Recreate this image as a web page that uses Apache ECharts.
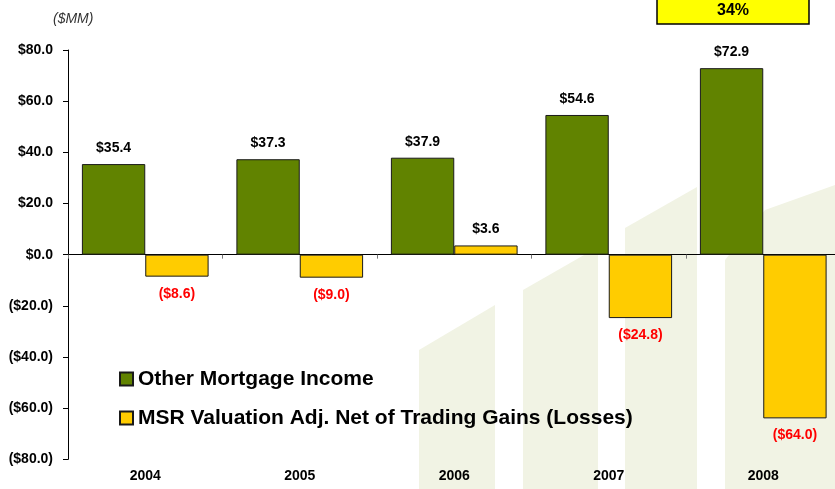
<!DOCTYPE html>
<html>
<head>
<meta charset="utf-8">
<script src="https://cdn.jsdelivr.net/npm/echarts@6/dist/echarts.min.js"></script>
<style>
  html, body { margin: 0; padding: 0; background: #fff; }
  #chart { width: 835px; height: 489px; }
</style>
</head>
<body>
<div id="chart"></div>
<script>
const years = ['2004', '2005', '2006', '2007', '2008']
const otherIncome = [35.4, 37.3, 37.9, 54.6, 72.9]
const msrAdj = [-8.6, -9.0, 3.6, -24.8, -64.0]
const unitNote = '($MM)'
const boxText = '34%'

const FONT = '"Liberation Sans", Arial, sans-serif'

const money = (v) => v < 0 ? '($' + Math.abs(v).toFixed(1) + ')' : '$' + v.toFixed(1)

// value labels: red & below for losses, black & above otherwise
const toItems = (arr) => arr.map(v => ({
  value: v,
  label: {
    position: v < 0 ? 'bottom' : 'top',
    distance: v < 0 ? 10 : 9,
    color: v < 0 ? '#ff0000' : '#000'
  }
}))

// faint logo watermark behind the plot
const wm = '#f1f3e4'
const watermark = [
  [[419, 350], [495, 305], [495, 489], [419, 489]],
  [[523, 290], [598, 247], [598, 489], [523, 489]],
  [[625, 228], [697, 187], [697, 489], [625, 489]],
  [[725, 260], [765, 210], [835, 185], [835, 489], [725, 489]]
].map(pts => ({
  type: 'polygon',
  z: -10,
  silent: true,
  shape: { points: pts },
  style: { fill: wm }
}))

const chart = echarts.init(document.getElementById('chart'))
chart.setOption({
  backgroundColor: '#fff',
  animation: false,
  textStyle: { fontFamily: FONT },
  graphic: [
    ...watermark,
    {
      type: 'text',
      left: 53, top: 12,
      style: { text: unitNote, font: 'italic 14px ' + FONT, fill: '#333' }
    },
    {
      type: 'rect',
      shape: { x: 657, y: -2, width: 152, height: 26 },
      style: { fill: '#ffff00', stroke: '#000', lineWidth: 1.5 }
    },
    {
      type: 'text',
      x: 733, y: 11,
      style: {
        text: boxText, font: 'bold 16px ' + FONT, fill: '#000',
        align: 'center', verticalAlign: 'middle'
      }
    }
  ],
  legend: {
    orient: 'vertical',
    left: 114,
    top: 363,
    itemWidth: 13,
    itemHeight: 13,
    itemGap: 17,
    icon: 'rect',
    textStyle: { fontSize: 21, fontWeight: 'bold', color: '#000', fontFamily: FONT, lineHeight: 22 },
    data: ['Other Mortgage Income', 'MSR Valuation Adj. Net of Trading Gains (Losses)']
  },
  // plot runs a little past the right edge of the page, as in the slide
  grid: { left: 68, right: -5.5, top: 50, bottom: 29.7, outerBoundsMode: 'none', containLabel: false },
  xAxis: [
    {
      type: 'category',
      data: years,
      axisLine: { onZero: true, lineStyle: { color: '#000', width: 1 } },
      axisTick: { show: true, length: 4, lineStyle: { color: '#777' } },
      axisLabel: { show: false }
    },
    {
      type: 'category',
      data: years,
      position: 'bottom',
      axisLine: { show: false, onZero: false },
      axisTick: { show: false },
      axisLabel: { margin: 10, fontSize: 14, fontWeight: 'bold', color: '#000', fontFamily: FONT }
    }
  ],
  yAxis: {
    type: 'value',
    min: -80,
    max: 80,
    interval: 20,
    splitLine: { show: false },
    axisLine: { show: true, onZero: false, lineStyle: { color: '#000', width: 1 } },
    axisTick: { show: true, length: 5, lineStyle: { color: '#000' } },
    axisLabel: {
      margin: 15, fontSize: 14, fontWeight: 'bold', color: '#000', fontFamily: FONT,
      formatter: money
    }
  },
  series: [
    {
      name: 'Other Mortgage Income',
      type: 'bar',
      barWidth: '41%',
      barGap: '0%',
      itemStyle: { color: '#618300', borderColor: '#1a1a1a', borderWidth: 1 },
      label: {
        show: true, fontSize: 14, fontWeight: 'bold', fontFamily: FONT,
        formatter: p => money(p.value)
      },
      data: toItems(otherIncome)
    },
    {
      name: 'MSR Valuation Adj. Net of Trading Gains (Losses)',
      type: 'bar',
      barWidth: '41%',
      barGap: '0%',
      itemStyle: { color: '#ffcc00', borderColor: '#1a1a1a', borderWidth: 1 },
      label: {
        show: true, fontSize: 14, fontWeight: 'bold', fontFamily: FONT,
        formatter: p => money(p.value)
      },
      data: toItems(msrAdj)
    }
  ]
})
</script>
</body>
</html>
